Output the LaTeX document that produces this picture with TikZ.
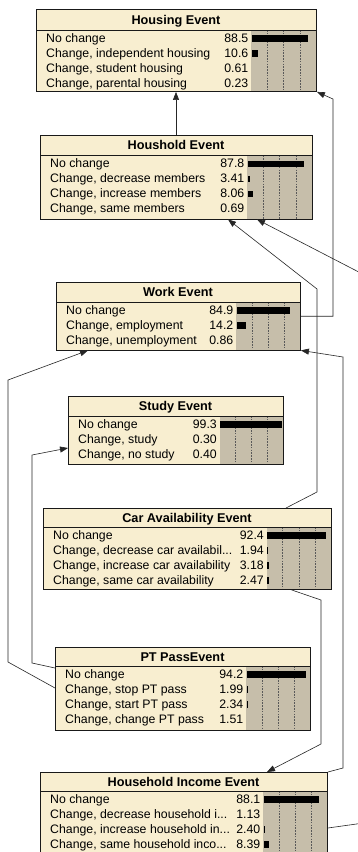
\documentclass[tikz,border=0pt]{standalone}
\usepackage{fontspec}
\setmainfont{Liberation Sans}
\usetikzlibrary{arrows.meta}

\definecolor{nodecream}{RGB}{248,238,208}
\definecolor{beliefgray}{RGB}{198,190,170}

\tikzset{
  netbox/.style={draw=black!90, line width=0.9pt, inner sep=0pt, anchor=north west},
  titlerule/.style={draw=black!90, line width=0.9pt},
  link/.style={draw=black!85, line width=0.6pt, line join=miter,
    -{Triangle[length=8pt,width=6pt]}},
  gridline/.style={draw=black!65, line width=0.45pt, dash pattern=on 1.6pt off 1.2pt},
  rowtext/.style={inner sep=0pt, font=\fontsize{12.3}{14}\selectfont},
  titletext/.style={inner sep=0pt, font=\fontsize{12.7}{14}\selectfont\bfseries},
}

\newcommand\elide{...}

% #1 name, #2 left, #3 top, #4 right, #5 bottom, #6 start of belief bars,
% #7 title rule, #8 title, #9 states as label/value
\newcommand\beliefnode[9]{%
  \fill[nodecream] (#2,#3) rectangle (#4,#5);
  \fill[beliefgray] (#6,#7) rectangle (#4,#5);
  \foreach \k in {1,2,3}
    \draw[gridline] ({#6+\k*(#4-#6)/4},#7) -- ({#6+\k*(#4-#6)/4},#5);
  \foreach \lab/\val [count=\i from 0] in {#9} {
    \pgfmathsetmacro\by{#7+12+15*\i}
    \node[rowtext, anchor=base west] at (#2+10,\by) {\lab};
    \node[rowtext, anchor=base east] at (#6-2.5,\by) {\val};
    % bars narrower than a pixel are not shown
    \pgfmathparse{\val>1.6 ? 1 : 0}
    \ifnum\pgfmathresult=1
      \fill (#6+0.6,\by-6.8) rectangle ({#6+0.6+\val*(#4-#6-1.2)/100},\by-0.4);
    \fi
  }
  \draw[titlerule] (#2,#7) -- (#4,#7);
  \node[titletext, anchor=base] at ({(#2+#4)/2},{(#3+#7)/2+4.5}) {#8};
  \node[netbox, minimum width={#4-#2}, minimum height={#5-#3}] (#1) at (#2,#3) {};
}

\begin{document}
\begin{tikzpicture}[x=1pt, y=-1pt]
  \useasboundingbox (0,0) rectangle (358,852);
  \fill[white] (0,0) rectangle (358,852);
  \clip (0,0) rectangle (358,852);

  % belief nodes
  \beliefnode{housing}{36}{9}{316}{91}{251}{30}{Housing Event}%
    {No change/88.5, {Change, independent housing}/10.6,
     {Change, student housing}/0.61, {Change, parental housing}/0.23}
  \beliefnode{household}{40}{135}{312}{218.5}{247}{155.5}{Houshold Event}%
    {No change/87.8, {Change, decrease members}/3.41,
     {Change, increase members}/8.06, {Change, same members}/0.69}
  \beliefnode{work}{56}{282}{300}{349.5}{236}{302}{Work Event}%
    {No change/84.9, {Change, employment}/14.2, {Change, unemployment}/0.86}
  \beliefnode{study}{68}{396}{283}{463.5}{219.5}{416}{Study Event}%
    {No change/99.3, {Change, study}/0.30, {Change, no study}/0.40}
  \beliefnode{car}{43}{508}{331}{589}{266.5}{527}{Car Availability Event}%
    {No change/92.4, {Change, decrease car availabil\elide}/1.94,
     {Change, increase car availability}/3.18, {Change, same car availability}/2.47}
  \beliefnode{pt}{55}{647}{310}{729.5}{246}{666}{PT PassEvent}%
    {No change/94.2, {Change, stop PT pass}/1.99,
     {Change, start PT pass}/2.34, {Change, change PT pass}/1.51}
  \beliefnode{hhinc}{40}{772}{327}{855}{263}{791}{Household Income Event}%
    {No change/88.1, {Change, decrease household i\elide}/1.13,
     {Change, increase household in\elide}/2.40, {Change, same household inco\elide}/8.39}

  % anchor helpers on the node borders
  \coordinate (x176) at (176,0);
  \coordinate (x228) at (228,0);
  \coordinate (x257) at (257,0);
  \coordinate (x286) at (286,0);
  \coordinate (x291) at (291.5,0);
  \coordinate (x267) at (267,0);
  \coordinate (x88)  at (88,0);
  \coordinate (y448) at (0,448);
  \coordinate (y668) at (0,668);
  \coordinate (y688) at (0,688);
  \coordinate (y828) at (0,828);

  % links
  \draw[link] (x176 |- household.north) -- (x176 |- housing.south);
  \draw[link] (work.east) -| (333,99) -- (housing.south east);
  \draw[link] (x286 |- car.north) -- (317,492) -- (317,289) -- (household.south -| x228);
  \draw[link] (hhinc.east |- y828) -- (380,820.7) -- (380,283) -- (household.south -| x257);
  \draw[link] (hhinc.north east) -- (343,768) -- (343,357) -- (work.south east);
  \draw[link] (car.south -| x291) -- (321,600) -- (321,744) -- (hhinc.north -| x267);
  \draw[link] (pt.west |- y668) -- (32,663) -- (32,455) -- (study.west |- y448);
  \draw[link] (pt.west |- y688) -- (8,662) -- (8,380) -- (work.south -| x88);
\end{tikzpicture}
\end{document}
